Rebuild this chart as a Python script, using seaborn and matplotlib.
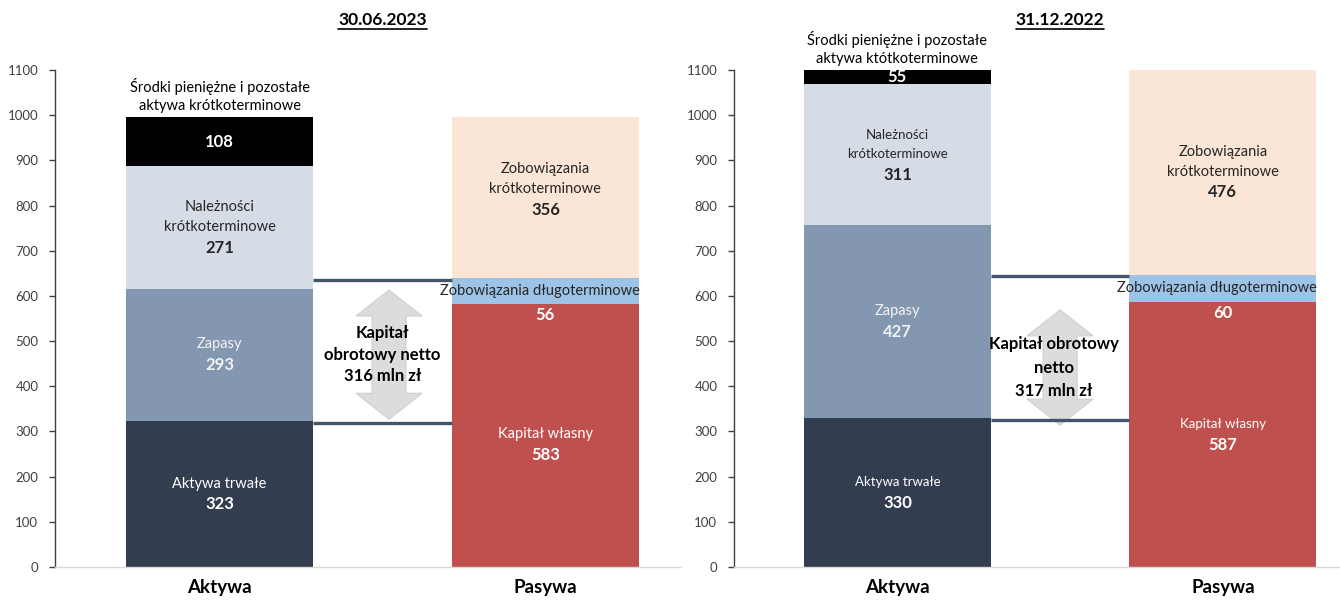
import matplotlib
matplotlib.use("Agg")
import matplotlib.pyplot as plt
import seaborn as sns
import pandas as pd
from matplotlib.patches import Polygon
from matplotlib.lines import Line2D
from matplotlib.transforms import blended_transform_factory

# ---------------- data ----------------
categories = ["Aktywa", "Pasywa"]
periods = ["30.06.2023", "31.12.2022"]

asset_names = ["Aktywa trwałe", "Zapasy", "Należności\nkrótkoterminowe", ""]
assets_2023 = [323, 293, 271, 108]
assets_2022 = [330, 427, 311, 55]

liab_names = ["Kapitał własny", "Zobowiązania długoterminowe", "Zobowiązania\nkrótkoterminowe"]
liab_2023 = [583, 56, 356]
liab_2022 = [587, 60, 476]

cash_labels = ["Środki pieniężne i pozostałe\naktywa krótkoterminowe",
               "Środki pieniężne i pozostałe\naktywa któtkoterminowe"]
nwc_values = [316, 317]
nwc_templates = ["Kapitał\nobrotowy netto\n{} mln zł", "Kapitał obrotowy\nnetto\n{} mln zł"]
y_ticks = list(range(0, 1101, 100))

# ---------------- style ----------------
asset_colors = ["#333D50", "#8497B0", "#D6DCE5", "#000000"]
liab_colors = ["#C0504D", "#9DC3E6", "#FBE5D6"]
asset_text = ["white", "#F2F2F2", "#262626", "white"]
liab_text = ["white", "#262626", "#262626"]

sns.set_theme(style="white")
plt.rcParams["font.family"] = ["Lato", "DejaVu Sans"]

W, H = 1340, 602
fig = plt.figure(figsize=(W / 100, H / 100), dpi=100)

BAR_W = 0.574
YMAX = 1100
NUM_SIZE = 12
panels = [
    dict(left=55, right=681, xlim=(-0.505, 1.416), assets=assets_2023, liabs=liab_2023,
         name_sizes_a=[10.5, 10.5, 10.5, 10.5], name_sizes_l=[10.5, 10.5, 10.5],
         nudge_l=[-6.5, 0, 6], arrow_x=0.52, arrow_span=(327, 613), nwc_ls=1.45),
    dict(left=734, right=1340, xlim=(-0.502, 1.36), assets=assets_2022, liabs=liab_2022,
         name_sizes_a=[9.5, 10.5, 9.5, 10.5], name_sizes_l=[9.5, 10.5, 10.5],
         nudge_l=[0, 0, 0], arrow_x=0.50, arrow_span=(314, 569), nwc_ls=1.55),
]

bottom_px, top_px = 567, 70


def label_stack(ax, x, yc, name, number, name_size, color, nudge=0.0):
    lines = name.split("\n") if name else []
    items = [(l, name_size, "normal") for l in lines] + [(str(number), NUM_SIZE, "bold")]
    gaps = [14.0] * (len(lines) - 1) + ([15.0] if lines else [])
    off = sum(gaps) / 2 + nudge
    for i, (t, s, w) in enumerate(items):
        ax.annotate(t, (x, yc), xytext=(0, off), textcoords="offset points",
                    ha="center", va="center", fontsize=s, fontweight=w, color=color)
        if i < len(gaps):
            off -= gaps[i]


titles = []
for pi, p in enumerate(panels):
    ax = fig.add_axes([p["left"] / W, (H - bottom_px) / H,
                       (p["right"] - p["left"]) / W, (bottom_px - top_px) / H])

    # stacked bars drawn through seaborn
    for cat, vals, cols in [("Aktywa", p["assets"], asset_colors),
                            ("Pasywa", p["liabs"], liab_colors)]:
        base = 0
        for v, c in zip(vals, cols):
            df = pd.DataFrame({"kategoria": [cat], "wartosc": [v]})
            sns.barplot(data=df, x="kategoria", y="wartosc", order=categories,
                        color=c, saturation=1, width=BAR_W, bottom=base,
                        linewidth=0, errorbar=None, ax=ax)
            base += v

    ax.set_xlim(*p["xlim"])
    ax.set_ylim(0, YMAX)
    ax.set_yticks(y_ticks)
    ax.set_xlabel("")
    ax.set_ylabel("")
    ax.set_xticks([0, 1])
    ax.set_xticklabels(categories, fontsize=13.5, fontweight="bold", color="black")
    ax.tick_params(axis="x", length=0, pad=9)
    ax.tick_params(axis="y", length=4, width=1, color="#404040", labelsize=9.5,
                   labelcolor="#404040", pad=8, left=True, direction="out")
    for s in ["top", "right"]:
        ax.spines[s].set_visible(False)
    ax.spines["left"].set_color("#404040")
    ax.spines["left"].set_linewidth(1)
    ax.spines["bottom"].set_color("#D9D9D9")
    ax.spines["bottom"].set_linewidth(1)
    ax.set_facecolor("white")

    # asset labels
    base = 0
    for i, v in enumerate(p["assets"]):
        top = base + v
        vis_top = min(top, YMAX)
        yc = (base + vis_top) / 2
        label_stack(ax, 0, yc, asset_names[i], v, p["name_sizes_a"][i], asset_text[i])
        base = top
    # cash label above the bar
    ax.annotate(cash_labels[pi], (0, min(base, YMAX)), xytext=(0, 3),
                textcoords="offset points", ha="center", va="bottom",
                fontsize=10.5, color="black", linespacing=1.35, annotation_clip=False)

    # liability labels
    base = 0
    for i, v in enumerate(p["liabs"]):
        top = base + v
        vis_top = min(top, YMAX)
        yc = (base + vis_top) / 2
        if i == 1:
            ax.annotate(liab_names[i], (1, yc), xytext=(-4, 0), textcoords="offset points",
                        ha="center", va="center", fontsize=p["name_sizes_l"][i],
                        color=liab_text[i])
            ax.annotate(str(v), (1, base), xytext=(0, -8), textcoords="offset points",
                        ha="center", va="center", fontsize=NUM_SIZE, fontweight="bold",
                        color="white")
        else:
            label_stack(ax, 1, yc, liab_names[i], v, p["name_sizes_l"][i], liab_text[i],
                        p["nudge_l"][i])
        base = top

    # connector lines
    upper = p["liabs"][0] + p["liabs"][1]
    lower = p["assets"][0]
    xa, xp = BAR_W / 2, 1 - BAR_W / 2
    for lvl in (upper, lower):
        ax.plot([xa, xp], [lvl - 4, lvl - 4], color="#44546A", lw=2.4,
                solid_capstyle="butt", zorder=3)

    # double arrow (pixel-shaped polygon)
    x_per_px = (p["xlim"][1] - p["xlim"][0]) / (p["right"] - p["left"])
    y_per_px = YMAX / (bottom_px - top_px)
    ax_c = p["arrow_x"]
    y0, y1 = p["arrow_span"]
    hw, sw, hl = 33 * x_per_px, 17 * x_per_px, 26 * y_per_px
    pts = [(ax_c, y1), (ax_c + hw, y1 - hl), (ax_c + sw, y1 - hl), (ax_c + sw, y0 + hl),
           (ax_c + hw, y0 + hl), (ax_c, y0), (ax_c - hw, y0 + hl), (ax_c - sw, y0 + hl),
           (ax_c - sw, y1 - hl), (ax_c - hw, y1 - hl)]
    ax.add_patch(Polygon(pts, closed=True, facecolor="#DCDCDC", edgecolor="#CFCFCF",
                         lw=0.8, zorder=2))
    ax.text(ax_c - 0.02, (y0 + y1) / 2, nwc_templates[pi].format(nwc_values[pi]),
            ha="center", va="center", fontsize=12, fontweight="bold", color="black",
            linespacing=p["nwc_ls"], zorder=4)

    # title
    tr = blended_transform_factory(ax.transData, fig.transFigure)
    t = ax.text(0.5, 1 - 20 / H, periods[pi], transform=tr, ha="center", va="center",
                fontsize=12.5, fontweight="bold", color="black")
    titles.append(t)

fig.canvas.draw()
renderer = fig.canvas.get_renderer()
for t in titles:
    bb = t.get_window_extent(renderer)
    yline = (bb.y0 - 1) / fig.bbox.height
    fig.add_artist(Line2D([bb.x0 / fig.bbox.width, bb.x1 / fig.bbox.width], [yline, yline],
                          transform=fig.transFigure, color="black", lw=1.2))

fig.savefig("out.png", dpi=100)
